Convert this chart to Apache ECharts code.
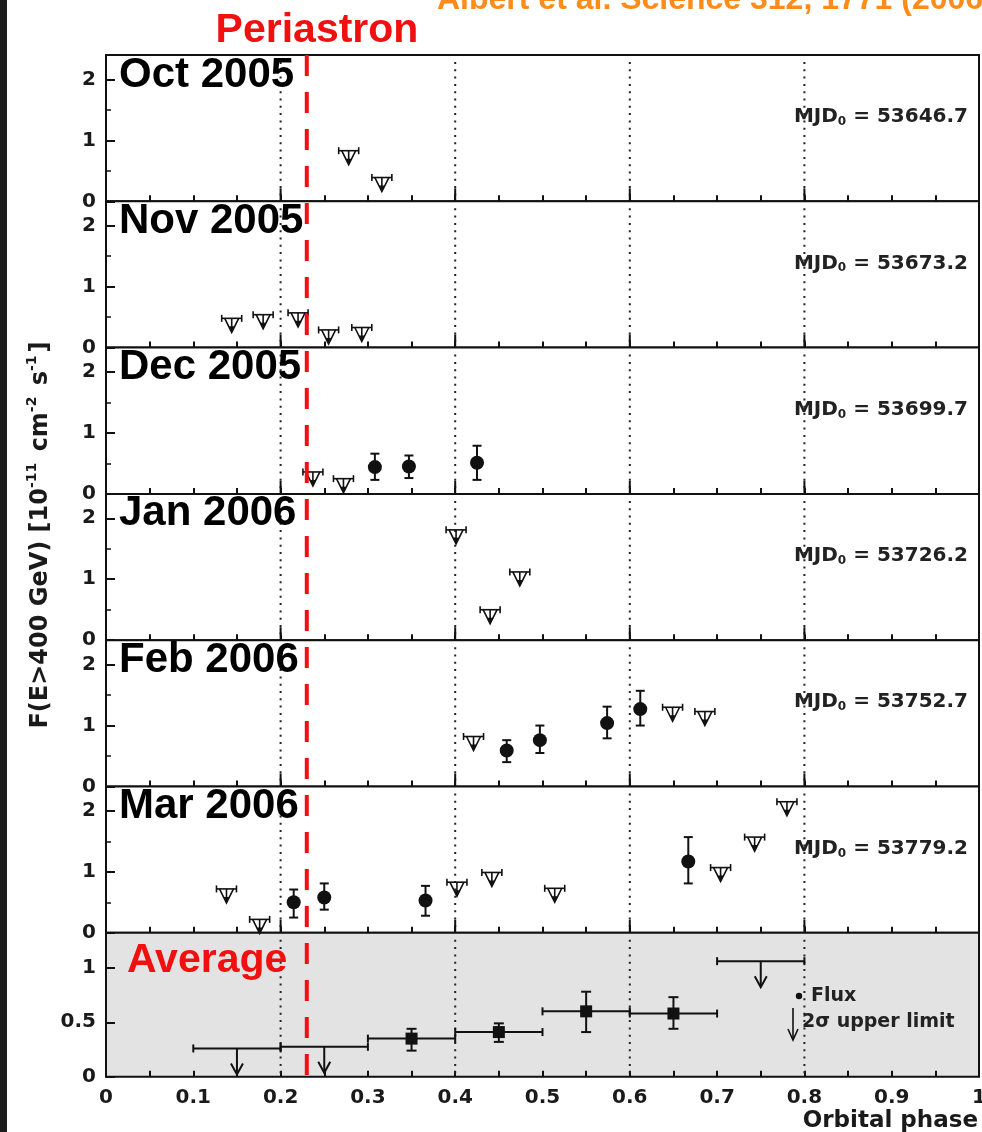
<!DOCTYPE html>
<html>
<head>
<meta charset="utf-8">
<script src="https://cdn.jsdelivr.net/npm/echarts@6/dist/echarts.min.js"></script>
<style>
  html, body { margin: 0; padding: 0; background: #fff; }
  #chart { width: 982px; height: 1132px; }
</style>
</head>
<body>
<div id="chart"></div>
<script>
// ---- data ----
var months = ['Oct 2005', 'Nov 2005', 'Dec 2005', 'Jan 2006', 'Feb 2006', 'Mar 2006'];
var mjd0 = ['53646.7', '53673.2', '53699.7', '53726.2', '53752.7', '53779.2'];

// upper limits per month: [phase, flux upper limit]
var octUL = [[0.278, 0.83], [0.316, 0.39]];
var novUL = [[0.144, 0.48], [0.180, 0.54], [0.220, 0.57], [0.255, 0.29], [0.293, 0.33]];
var decUL = [[0.237, 0.36], [0.272, 0.25]];
var janUL = [[0.401, 1.81], [0.440, 0.50], [0.474, 1.12]];
var febUL = [[0.421, 0.82], [0.649, 1.30], [0.686, 1.23]];
var marUL = [[0.138, 0.72], [0.176, 0.22], [0.402, 0.83], [0.442, 0.99], [0.514, 0.73],
             [0.704, 1.07], [0.743, 1.57], [0.780, 2.15]];

// detections per month: [phase, flux, low, high]
var octPts = [];
var novPts = [];
var decPts = [[0.308, 0.44, 0.23, 0.66], [0.347, 0.45, 0.26, 0.63], [0.425, 0.51, 0.23, 0.79]];
var janPts = [];
var febPts = [[0.459, 0.59, 0.40, 0.76], [0.497, 0.76, 0.55, 1.00], [0.574, 1.04, 0.79, 1.31],
              [0.612, 1.27, 1.00, 1.57]];
var marPts = [[0.215, 0.50, 0.25, 0.71], [0.250, 0.58, 0.38, 0.81], [0.366, 0.53, 0.28, 0.77],
              [0.667, 1.17, 0.81, 1.57]];

// phase-binned average: [binLow, binHigh, value] and [binLow, binHigh, flux, low, high]
var avgUL = [[0.1, 0.2, 0.26], [0.2, 0.3, 0.275], [0.7, 0.8, 1.06]];
var avgPts = [[0.3, 0.4, 0.35, 0.24, 0.44], [0.4, 0.5, 0.41, 0.32, 0.49],
              [0.5, 0.6, 0.60, 0.41, 0.78], [0.6, 0.7, 0.58, 0.44, 0.73]];

var periastron = 0.23;
var guides = [0.2, 0.4, 0.6, 0.8];
var xLabels = ['0', '0.1', '0.2', '0.3', '0.4', '0.5', '0.6', '0.7', '0.8', '0.9', '1'];
var monthMax = 2.4, avgMax = 1.32;

var ulSets = [octUL, novUL, decUL, janUL, febUL, marUL];
var ptSets = [octPts, novPts, decPts, janPts, febPts, marPts];

// ---- layout ----
var LEFT = 106, RIGHT = 3, TOP = 55, PH = 146.3, AVG_H = 144;
var INK = '#111';
var TICK_FONT = 'DejaVu Sans';

function ulMark(params, api) {
  var c = api.coord([api.value(0), api.value(1)]);
  var x = c[0], y = c[1];
  var s = { stroke: INK, lineWidth: 1.6, fill: null };
  return { type: 'group', children: [
    { type: 'line', shape: { x1: x - 10, y1: y, x2: x + 10, y2: y }, style: s },
    { type: 'line', shape: { x1: x - 10, y1: y - 3.5, x2: x - 10, y2: y + 3.5 }, style: s },
    { type: 'line', shape: { x1: x + 10, y1: y - 3.5, x2: x + 10, y2: y + 3.5 }, style: s },
    { type: 'polyline', shape: { points: [[x - 7, y], [x, y + 14], [x + 7, y]] }, style: s },
    { type: 'line', shape: { x1: x, y1: y, x2: x, y2: y + 9 }, style: s },
    { type: 'polygon', shape: { points: [[x - 3, y + 8], [x + 3, y + 8], [x, y + 14]] }, style: { fill: INK } }
  ]};
}

function ptMark(params, api) {
  var c = api.coord([api.value(0), api.value(1)]);
  var lo = api.coord([api.value(0), api.value(2)]);
  var hi = api.coord([api.value(0), api.value(3)]);
  var x = c[0];
  var s = { stroke: INK, lineWidth: 2 };
  return { type: 'group', children: [
    { type: 'line', shape: { x1: x, y1: lo[1], x2: x, y2: hi[1] }, style: s },
    { type: 'line', shape: { x1: x - 4.5, y1: lo[1], x2: x + 4.5, y2: lo[1] }, style: s },
    { type: 'line', shape: { x1: x - 4.5, y1: hi[1], x2: x + 4.5, y2: hi[1] }, style: s },
    { type: 'circle', shape: { cx: x, cy: c[1], r: 7 }, style: { fill: INK } }
  ]};
}

function binBar(api, lo, hi, v, s) {
  var a = api.coord([lo, v]), b = api.coord([hi, v]);
  return [
    { type: 'line', shape: { x1: a[0], y1: a[1], x2: b[0], y2: b[1] }, style: s },
    { type: 'line', shape: { x1: a[0], y1: a[1] - 4, x2: a[0], y2: a[1] + 4 }, style: s },
    { type: 'line', shape: { x1: b[0], y1: b[1] - 4, x2: b[0], y2: b[1] + 4 }, style: s }
  ];
}

function avgUlMark(params, api) {
  var lo = api.value(0), hi = api.value(1), v = api.value(2);
  var s = { stroke: INK, lineWidth: 2, fill: null };
  var c = api.coord([(lo + hi) / 2, v]);
  var x = c[0], y = c[1];
  var kids = binBar(api, lo, hi, v, s);
  kids.push({ type: 'line', shape: { x1: x, y1: y, x2: x, y2: y + 26 }, style: s });
  kids.push({ type: 'polyline', shape: { points: [[x - 6, y + 15], [x, y + 26], [x + 6, y + 15]] }, style: s });
  return { type: 'group', children: kids };
}

function avgPtMark(params, api) {
  var lo = api.value(0), hi = api.value(1), v = api.value(2);
  var s = { stroke: INK, lineWidth: 2 };
  var c = api.coord([(lo + hi) / 2, v]);
  var eLo = api.coord([(lo + hi) / 2, api.value(3)]);
  var eHi = api.coord([(lo + hi) / 2, api.value(4)]);
  var x = c[0];
  var kids = binBar(api, lo, hi, v, s);
  kids.push({ type: 'line', shape: { x1: x, y1: eLo[1], x2: x, y2: eHi[1] }, style: s });
  kids.push({ type: 'line', shape: { x1: x - 5, y1: eLo[1], x2: x + 5, y2: eLo[1] }, style: s });
  kids.push({ type: 'line', shape: { x1: x - 5, y1: eHi[1], x2: x + 5, y2: eHi[1] }, style: s });
  kids.push({ type: 'rect', shape: { x: x - 6, y: c[1] - 6, width: 12, height: 12 }, style: { fill: INK } });
  return { type: 'group', children: kids };
}

function guideMark(withTick) {
  return function (params, api) {
    var top = api.coord([api.value(0), api.value(1)]);
    var bot = api.coord([api.value(0), 0]);
    var kids = [{ type: 'line', shape: { x1: top[0], y1: top[1] + 7, x2: bot[0], y2: bot[1] },
      style: { stroke: '#222', lineWidth: 2, lineDash: [2, 5.3] } }];
    if (withTick) {
      kids.push({ type: 'line', shape: { x1: bot[0], y1: bot[1] - 13, x2: bot[0], y2: bot[1] },
        style: { stroke: INK, lineWidth: 2 } });
    }
    return { type: 'group', children: kids };
  };
}

var grids = [], xAxes = [], yAxes = [], series = [];

function addPanel(i, top, h, ymax, interval, isLast, bg) {
  grids.push({ left: LEFT, right: RIGHT, top: top, height: h, show: true,
    backgroundColor: bg, borderColor: INK, borderWidth: 2, outerBoundsMode: 'none' });
  xAxes.push({ type: 'value', gridIndex: i, min: 0, max: 1, interval: 0.05,
    axisLine: { show: false }, splitLine: { show: false },
    axisTick: { show: true, inside: true, length: 6, lineStyle: { color: INK, width: 2 } },
    axisLabel: { show: isLast, margin: 11, color: '#1a1a1a', fontFamily: TICK_FONT,
      fontWeight: 'bold', fontSize: 20,
      formatter: function (v) {
        var r = Math.round(v * 20);
        return r % 2 ? '' : xLabels[r / 2];
      } } });
  yAxes.push({ type: 'value', gridIndex: i, min: 0, max: ymax, interval: interval,
    axisLine: { show: false }, splitLine: { show: false },
    axisTick: { show: true, inside: true, length: 9, lineStyle: { color: INK, width: 2 } },
    minorTick: { show: !isLast, splitNumber: 2, length: 5, lineStyle: { color: INK, width: 1.5 } },
    axisLabel: { showMaxLabel: false, margin: 10, color: '#1a1a1a', fontFamily: TICK_FONT,
      fontWeight: 'bold', fontSize: 20 } });
}

for (var i = 0; i < 6; i++) {
  addPanel(i, TOP + i * PH, PH, monthMax, 1, false, '#fff');
  series.push({ type: 'custom', xAxisIndex: i, yAxisIndex: i, z: 1, silent: true,
    renderItem: guideMark(true), data: guides.map(function (g) { return [g, monthMax]; }) });
  series.push({ type: 'custom', xAxisIndex: i, yAxisIndex: i, z: 3, renderItem: ulMark, data: ulSets[i] });
  series.push({ type: 'custom', xAxisIndex: i, yAxisIndex: i, z: 3, renderItem: ptMark, data: ptSets[i] });
}
addPanel(6, TOP + 6 * PH, AVG_H, avgMax, 0.5, true, '#e3e3e3');
series.push({ type: 'custom', xAxisIndex: 6, yAxisIndex: 6, z: 1, silent: true,
  renderItem: guideMark(false), data: guides.map(function (g) { return [g, avgMax]; }) });
series.push({ type: 'custom', xAxisIndex: 6, yAxisIndex: 6, z: 3, renderItem: avgUlMark, data: avgUL });
series.push({ type: 'custom', xAxisIndex: 6, yAxisIndex: 6, z: 3, renderItem: avgPtMark, data: avgPts });

var chart = echarts.init(document.getElementById('chart'), null, { renderer: 'canvas' });
chart.setOption({
  animation: false,
  backgroundColor: '#fff',
  grid: grids, xAxis: xAxes, yAxis: yAxes, series: series
});

// ---- annotations ----
var gfx = [];
gfx.push({ type: 'rect', left: 0, top: 0, shape: { width: 7, height: 1132 }, style: { fill: '#1c1c1c' }, z: 10 });
gfx.push({ type: 'text', x: 437, y: 16, z: 10, style: { text: 'Albert et al. Science 312, 1771 (2006)',
  fill: '#ff8c1a', font: 'bold 32px "Liberation Sans"', verticalAlign: 'bottom', align: 'left' } });
gfx.push({ type: 'text', x: 317, y: 31, z: 10, style: { text: 'Periastron',
  fill: '#f01010', font: 'bold 41px "Liberation Sans"', verticalAlign: 'middle', align: 'center' } });

for (var k = 0; k < 6; k++) {
  var pt = TOP + k * PH;
  gfx.push({ type: 'text', x: 119, y: pt + 20, z: 10, style: { text: months[k], fill: '#000',
    font: 'bold 42px "Liberation Sans"', verticalAlign: 'middle', align: 'left' } });
  gfx.push({ type: 'text', x: 968, y: pt + 62, z: 10, style: {
    text: 'MJD{sub|0} = ' + mjd0[k], fill: '#222', font: 'bold 20px "DejaVu Sans"',
    verticalAlign: 'middle', align: 'right',
    rich: { sub: { font: 'bold 12px "DejaVu Sans"', fill: '#222', verticalAlign: 'bottom', padding: [10, 0, 0, 0] } } } });
}
var avgTop = TOP + 6 * PH;
gfx.push({ type: 'text', x: 127, y: avgTop + 28, z: 10, style: { text: 'Average', fill: '#f01010',
  font: 'bold 41px "Liberation Sans"', verticalAlign: 'middle', align: 'left' } });

// legend in the average panel
gfx.push({ type: 'circle', shape: { cx: 799, cy: 996, r: 3.2 }, style: { fill: INK }, z: 10 });
gfx.push({ type: 'text', x: 811, y: 996, z: 10, style: { text: 'Flux', fill: '#222',
  font: 'bold 19px "DejaVu Sans"', verticalAlign: 'middle', align: 'left' } });
gfx.push({ type: 'line', shape: { x1: 793, y1: 1008, x2: 793, y2: 1040 }, style: { stroke: INK, lineWidth: 1.6 }, z: 10 });
gfx.push({ type: 'polyline', shape: { points: [[788, 1029], [793, 1040], [798, 1029]] }, style: { stroke: INK, lineWidth: 1.6, fill: null }, z: 10 });
gfx.push({ type: 'text', x: 802, y: 1022, z: 10, style: { text: '2σ upper limit', fill: '#222',
  font: 'bold 19px "DejaVu Sans"', verticalAlign: 'middle', align: 'left' } });

// axis titles
gfx.push({ type: 'text', x: 978, y: 1121, z: 10, style: { text: 'Orbital phase', fill: '#1a1a1a',
  font: 'bold 23px "DejaVu Sans"', verticalAlign: 'middle', align: 'right' } });
gfx.push({ type: 'text', x: 41, y: 535, rotation: Math.PI / 2, z: 10, style: {
  text: 'F(E>400 GeV) [10{sup|-11} cm{sup|-2} s{sup|-1}]', fill: '#1a1a1a',
  font: 'bold 24px "DejaVu Sans"', verticalAlign: 'middle', align: 'center',
  rich: { sup: { font: 'bold 14px "DejaVu Sans"', fill: '#1a1a1a', padding: [0, 3, 17, 0] } } } });

// periastron marker spanning every panel
var pTop = chart.convertToPixel({ xAxisIndex: 0, yAxisIndex: 0 }, [periastron, monthMax]);
var pBot = chart.convertToPixel({ xAxisIndex: 6, yAxisIndex: 6 }, [periastron, 0]);
gfx.push({ type: 'line', z: 20, shape: { x1: pTop[0], y1: pTop[1], x2: pBot[0], y2: pBot[1] + 6 },
  style: { stroke: '#f01010', lineWidth: 4, lineDash: [21, 16] } });

chart.setOption({ graphic: gfx });
</script>
</body>
</html>
